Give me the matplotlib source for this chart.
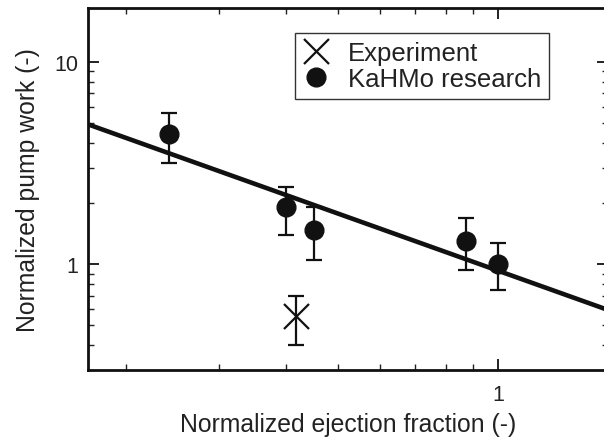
import numpy as np
import matplotlib
matplotlib.use("Agg")
import matplotlib.pyplot as plt
from matplotlib.lines import Line2D
from matplotlib.ticker import FixedLocator, FixedFormatter, NullFormatter, LogLocator

plt.rcParams['font.family'] = ['Liberation Sans', 'DejaVu Sans']

# KaHMo research points with error bars
kahmo_ef = [0.241, 0.401, 0.451, 0.871, 1.0]
kahmo_work = [4.42, 1.93, 1.47, 1.31, 1.0]
kahmo_hi = [5.61, 2.42, 1.91, 1.69, 1.27]
kahmo_lo = [3.18, 1.39, 1.05, 0.94, 0.745]

# experimental point
exp_ef = [0.417]
exp_work = [0.554]
exp_hi = [0.70]
exp_lo = [0.40]

# power-law trend  work = a * ef**b
fit_a = 0.93
fit_b = -0.94

ink = '#111111'
W, H = 604, 439
fig = plt.figure(figsize=(W / 100, H / 100), dpi=100)
ax = fig.add_axes([88 / W, 1 - 371 / H, 520 / W, 362 / H])

ax.set_xscale('log')
ax.set_yscale('log')
ax.set_xlim(0.17, 1.61)
ax.set_ylim(0.3, 18.5)

xf = np.logspace(np.log10(0.17), np.log10(1.61), 50)
ax.plot(xf, fit_a * xf ** fit_b, color=ink, lw=3.3, zorder=2)

kw = np.array(kahmo_work)
ax.errorbar(kahmo_ef, kahmo_work,
            yerr=[kw - np.array(kahmo_lo), np.array(kahmo_hi) - kw],
            fmt='o', color=ink, ms=13.5, elinewidth=1.6, capsize=6,
            capthick=1.6, zorder=3)

ew = np.array(exp_work)
ax.errorbar(exp_ef, exp_work,
            yerr=[ew - np.array(exp_lo), np.array(exp_hi) - ew],
            fmt='x', color=ink, ms=18, mew=1.6, elinewidth=1.6,
            capsize=6, capthick=1.6, zorder=3)

ax.xaxis.set_major_locator(FixedLocator([1.0]))
ax.xaxis.set_major_formatter(FixedFormatter(['1']))
ax.xaxis.set_minor_locator(LogLocator(base=10, subs=np.arange(2, 10)))
ax.xaxis.set_minor_formatter(NullFormatter())
ax.yaxis.set_major_locator(FixedLocator([1.0, 10.0]))
ax.yaxis.set_major_formatter(FixedFormatter(['1', '10']))
ax.yaxis.set_minor_locator(LogLocator(base=10, subs=np.arange(2, 10)))
ax.yaxis.set_minor_formatter(NullFormatter())

ax.tick_params(which='both', direction='in', top=True, right=True,
               color='#222222')
ax.tick_params(which='major', length=8, width=1.4, labelsize=15.5,
               labelcolor='#222222')
ax.tick_params(axis='x', which='major', pad=10)
ax.tick_params(axis='y', which='major', pad=7)
ax.tick_params(which='minor', length=4, width=1.0)
for s in ax.spines.values():
    s.set_linewidth(2.0)
    s.set_color(ink)

ax.set_xlabel('Normalized ejection fraction (-)', fontsize=17.8, labelpad=5,
              color='#222222')
ax.set_ylabel('Normalized pump work (-)', fontsize=17.8, labelpad=10,
              color='#222222')

# legend shows the bare markers only
handles = [Line2D([], [], ls='none', marker='x', ms=18, mew=1.6, color=ink),
           Line2D([], [], ls='none', marker='o', ms=13.5, color=ink)]
labels = ['Experiment', 'KaHMo research']
leg = ax.legend(handles, labels, loc='upper right',
                bbox_to_anchor=(549 / W, 1 - 34 / H),
                bbox_transform=fig.transFigure, fontsize=18.5,
                fancybox=False, framealpha=1, edgecolor='#333333',
                handlelength=1.0, handletextpad=0.75, borderpad=0.3,
                labelspacing=0.1, borderaxespad=0)
leg.get_frame().set_linewidth(1.0)
for t in leg.get_texts():
    t.set_color('#222222')

fig.savefig('out.png', dpi=100)
